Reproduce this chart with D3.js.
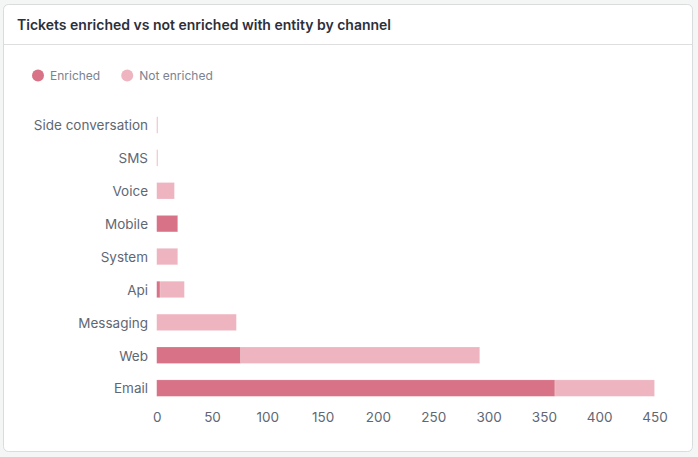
<!DOCTYPE html>
<html>
<head>
<meta charset="utf-8">
<script src="https://cdn.jsdelivr.net/npm/d3@7"></script>
<style>
  html, body { margin: 0; padding: 0; background: #f4f5f5; }
  svg { display: block; font-family: "Inter", "Noto Sans", sans-serif; }
</style>
</head>
<body>
<svg id="chart" width="698" height="457"></svg>
<script>
// Values
const channels = ['Side conversation', 'SMS', 'Voice', 'Mobile', 'System', 'Api', 'Messaging', 'Web', 'Email'];
const enriched = [0, 0, 0, 19, 0, 3, 0, 76, 360];
const notEnriched = [1, 1, 16, 0, 19, 22, 72, 216, 90];
const seriesNames = ['Enriched', 'Not enriched'];
const seriesColours = ['#d77287', '#eeb5c1'];
const xTicks = [0, 50, 100, 150, 200, 250, 300, 350, 400, 450];
const title = 'Tickets enriched vs not enriched with entity by channel';

const svg = d3.select('#chart');

// Card with header
svg.append('rect')
    .attr('x', 3.5).attr('y', 4.5)
    .attr('width', 689).attr('height', 447)
    .attr('rx', 5)
    .attr('fill', '#fff')
    .attr('stroke', '#d9dbdd');
svg.append('line')
    .attr('x1', 4).attr('x2', 692)
    .attr('y1', 44.5).attr('y2', 44.5)
    .attr('stroke', '#dcdee0');
svg.append('text')
    .attr('x', 17).attr('y', 30)
    .attr('font-size', 14).attr('font-weight', 600)
    .attr('fill', '#2b303b')
    .text(title);

// Legend
const legend = svg.append('g').attr('transform', 'translate(38,75.5)');
let lx = 0;
seriesNames.forEach((name, i) => {
    const g = legend.append('g').attr('transform', `translate(${lx},0)`);
    g.append('circle').attr('r', 6).attr('fill', seriesColours[i]);
    const t = g.append('text')
        .attr('x', 12).attr('dy', '0.35em')
        .attr('font-size', 12).attr('fill', '#7b8391')
        .text(name);
    lx += 12 + t.node().getComputedTextLength() + 27;
});

// Scales
const x = d3.scaleLinear().domain([0, 450]).range([156.7, 654.5]);
const y = d3.scaleBand().domain(channels).range([100.3, 412.8]).padding(0.5);

// Stacked data
const rows = channels.map((c, i) => ({ channel: c, Enriched: enriched[i], 'Not enriched': notEnriched[i] }));
const stacked = d3.stack().keys(seriesNames)(rows);

svg.append('g').selectAll('g').data(stacked).join('g')
    .attr('fill', (d, i) => seriesColours[i])
    .selectAll('rect').data(d => d.filter(p => p[1] > p[0])).join('rect')
    .attr('x', d => x(d[0]))
    .attr('y', d => y(d.data.channel))
    .attr('width', d => x(d[1]) - x(d[0]))
    .attr('height', y.bandwidth())
    .attr('stroke', '#fff')
    .attr('stroke-opacity', 0.35)
    .attr('stroke-width', 0.5);

// Axes, labels only
const yAxis = svg.append('g')
    .attr('transform', 'translate(148,1)')
    .call(d3.axisLeft(y).tickSize(0).tickPadding(0));
const xAxis = svg.append('g')
    .attr('transform', 'translate(0,409)')
    .call(d3.axisBottom(x).tickValues(xTicks).tickSize(0).tickPadding(3));
[yAxis, xAxis].forEach(a => {
    a.select('.domain').remove();
    a.selectAll('text')
        .attr('font-family', '"Inter", "Noto Sans", sans-serif')
        .attr('font-size', 13.5)
        .attr('fill', '#5f6774');
});
</script>
</body>
</html>
